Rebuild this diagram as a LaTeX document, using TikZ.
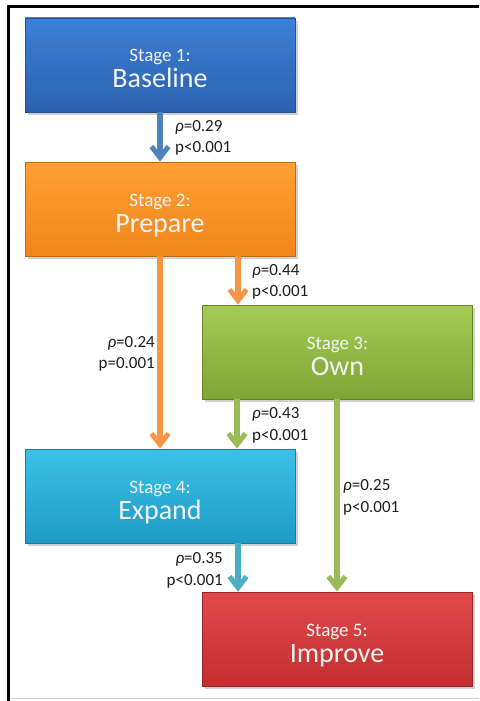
\documentclass[tikz,border=0pt]{standalone}
\usepackage{fontspec}
\setmainfont{Carlito}
\usetikzlibrary{arrows.meta}
\definecolor{bTop}{HTML}{3E80D6}\definecolor{bBot}{HTML}{2A61AE}\definecolor{bLine}{HTML}{24528F}
\definecolor{oTop}{HTML}{FFA033}\definecolor{oBot}{HTML}{F0861C}\definecolor{oLine}{HTML}{C06A14}
\definecolor{gTop}{HTML}{A4CC55}\definecolor{gBot}{HTML}{7FA536}\definecolor{gLine}{HTML}{66852A}
\definecolor{cTop}{HTML}{3CC2E6}\definecolor{cBot}{HTML}{1E9AC6}\definecolor{cLine}{HTML}{1A7FA3}
\definecolor{rTop}{HTML}{E24A4A}\definecolor{rBot}{HTML}{C22E2E}\definecolor{rLine}{HTML}{9A2424}
\definecolor{aBlue}{HTML}{4F81BD}\definecolor{aOrange}{HTML}{F79646}
\definecolor{aGreen}{HTML}{9BBB59}\definecolor{aCyan}{HTML}{4BACC6}
\definecolor{txt}{HTML}{F2F4F6}\definecolor{lab}{HTML}{1E1E1E}
\tikzset{
  stagebox/.style n args={3}{draw=#3, line width=0.8pt, top color=#1, bottom color=#2,
    minimum width=270pt, minimum height=94pt, inner sep=0pt},
  shadowbox/.style={fill=black, opacity=0.18, minimum width=270pt, minimum height=94pt, inner sep=0pt},
  stagelab/.style={text=txt, font=\fontsize{19}{21}\selectfont, anchor=base, inner sep=0pt},
  stagename/.style={text=txt, font=\fontsize{28}{30}\selectfont, anchor=base, inner sep=0pt},
  stat/.style={text=lab, font=\fontsize{17}{19}\selectfont, inner sep=0pt},
  conn/.style={draw=#1, line width=5.5pt, -{Straight Barb[length=11pt,width=17pt,line width=5pt]}},
}
\begin{document}
\begin{tikzpicture}[x=1pt,y=-1pt]
\useasboundingbox (0,0) rectangle (479,701);
\fill[white] (0,0) rectangle (479,701);
% frame
\draw[line width=3pt, black] (7,6.5) -- (479,6.5);
\draw[line width=3pt, black] (8.5,5) -- (8.5,701);
\draw[line width=1.2pt, black!18] (10,698.5) -- (479,698.5);
% shadows
\foreach \cx/\cy in {160/65,160/209,337.5/352,160/496,337/639}
  \node[shadowbox] at (\cx+2.5,\cy+3) {};
% boxes
\node[stagebox={bTop}{bBot}{bLine}] (s1) at (160,65) {};
\node[stagebox={oTop}{oBot}{oLine}] (s2) at (160,209) {};
\node[stagebox={gTop}{gBot}{gLine}] (s3) at (337.5,352) {};
\node[stagebox={cTop}{cBot}{cLine}] (s4) at (160,496) {};
\node[stagebox={rTop}{rBot}{rLine}] (s5) at (337,639) {};
% box texts
\node[stagelab]  (t1a) at (160,62) {Stage 1:};
\node[stagename] (t1b) at (160,88) {Baseline};
\node[stagelab]  (t2a) at (160,206) {Stage 2:};
\node[stagename] (t2b) at (160,232) {Prepare};
\node[stagelab]  (t3a) at (337.5,349) {Stage 3:};
\node[stagename] (t3b) at (337.5,375) {Own};
\node[stagelab]  (t4a) at (160,493) {Stage 4:};
\node[stagename] (t4b) at (160,519) {Expand};
\node[stagelab]  (t5a) at (337,636) {Stage 5:};
\node[stagename] (t5b) at (337,662) {Improve};
% connectors
\draw[conn=aBlue]   (s1.south -| 160,0) -- (s2.north -| 160,0);
\draw[conn=aOrange] (s2.south -| 160,0) -- (s4.north -| 160,0);
\draw[conn=aOrange] (s2.south -| 238,0) -- (s3.north -| 238,0);
\draw[conn=aGreen]  (s3.south -| 237,0) -- (s4.north -| 237,0);
\draw[conn=aGreen]  (s3.south -| 337,0) -- (s5.north -| 337,0);
\draw[conn=aCyan]   (s4.south -| 238,0) -- (s5.north -| 238,0);
% statistics
\node[stat, anchor=base west] (l1a) at (175,131) {\textit{ρ}=0.29};
\node[stat, anchor=base west] (l1b) at (175,152) {p<0.001};
\node[stat, anchor=base west] (l2a) at (252,275) {\textit{ρ}=0.44};
\node[stat, anchor=base west] (l2b) at (252,296) {p<0.001};
\node[stat, anchor=base east] (l3a) at (155,347) {\textit{ρ}=0.24};
\node[stat, anchor=base east] (l3b) at (155,368) {p=0.001};
\node[stat, anchor=base west] (l4a) at (252,418) {\textit{ρ}=0.43};
\node[stat, anchor=base west] (l4b) at (252,440) {p<0.001};
\node[stat, anchor=base west] (l5a) at (343,490) {\textit{ρ}=0.25};
\node[stat, anchor=base west] (l5b) at (343,512) {p<0.001};
\node[stat, anchor=base east] (l6a) at (223,563) {\textit{ρ}=0.35};
\node[stat, anchor=base east] (l6b) at (223,585) {p<0.001};
\end{tikzpicture}
\end{document}
